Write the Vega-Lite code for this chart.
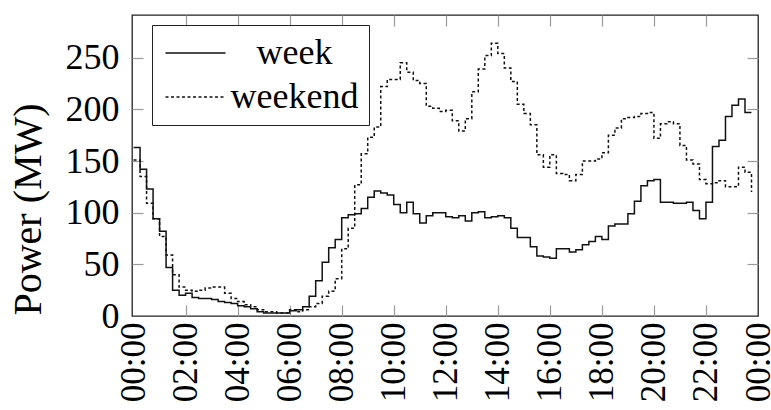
{
  "$schema": "https://vega.github.io/schema/vega-lite/v6.json",
  "autosize": {"type": "none"},
  "padding": {"left": 132, "top": 15, "right": 13, "bottom": 94},
  "width": 626,
  "height": 301,
  "background": "white",
  "config": {
    "view": {"stroke": "#222", "strokeWidth": 1.3},
    "font": "Liberation Serif",
    "axis": {"labelFont": "Liberation Serif", "titleFont": "Liberation Serif", "labelColor": "#000", "titleColor": "#000", "grid": false, "domain": false}
  },
  "data": {"values": [
    {"t":0,"p":163,"s":"week"},{"t":0.25,"p":142,"s":"week"},{"t":0.5,"p":123,"s":"week"},{"t":0.75,"p":94,"s":"week"},{"t":1,"p":82,"s":"week"},{"t":1.25,"p":47,"s":"week"},{"t":1.5,"p":25,"s":"week"},{"t":1.75,"p":20,"s":"week"},
    {"t":2,"p":22,"s":"week"},{"t":2.25,"p":18,"s":"week"},{"t":2.5,"p":17,"s":"week"},{"t":2.75,"p":17,"s":"week"},{"t":3,"p":16,"s":"week"},{"t":3.25,"p":14,"s":"week"},{"t":3.5,"p":13,"s":"week"},{"t":3.75,"p":12,"s":"week"},
    {"t":4,"p":10,"s":"week"},{"t":4.25,"p":9,"s":"week"},{"t":4.5,"p":7,"s":"week"},{"t":4.75,"p":4,"s":"week"},{"t":5,"p":3,"s":"week"},{"t":5.25,"p":3,"s":"week"},{"t":5.5,"p":3,"s":"week"},{"t":5.75,"p":3,"s":"week"},
    {"t":6,"p":5,"s":"week"},{"t":6.25,"p":6,"s":"week"},{"t":6.5,"p":9,"s":"week"},{"t":6.75,"p":19,"s":"week"},{"t":7,"p":34,"s":"week"},{"t":7.25,"p":52,"s":"week"},{"t":7.5,"p":66,"s":"week"},{"t":7.75,"p":74,"s":"week"},
    {"t":8,"p":95,"s":"week"},{"t":8.25,"p":98,"s":"week"},{"t":8.5,"p":99,"s":"week"},{"t":8.75,"p":104,"s":"week"},{"t":9,"p":115,"s":"week"},{"t":9.25,"p":121,"s":"week"},{"t":9.5,"p":119,"s":"week"},{"t":9.75,"p":117,"s":"week"},
    {"t":10,"p":108,"s":"week"},{"t":10.25,"p":100,"s":"week"},{"t":10.5,"p":110,"s":"week"},{"t":10.75,"p":99,"s":"week"},{"t":11,"p":90,"s":"week"},{"t":11.25,"p":97,"s":"week"},{"t":11.5,"p":100,"s":"week"},{"t":11.75,"p":100,"s":"week"},
    {"t":12,"p":96,"s":"week"},{"t":12.25,"p":95,"s":"week"},{"t":12.5,"p":97,"s":"week"},{"t":12.75,"p":92,"s":"week"},{"t":13,"p":100,"s":"week"},{"t":13.25,"p":101,"s":"week"},{"t":13.5,"p":95,"s":"week"},{"t":13.75,"p":96,"s":"week"},
    {"t":14,"p":97,"s":"week"},{"t":14.25,"p":95,"s":"week"},{"t":14.5,"p":85,"s":"week"},{"t":14.75,"p":76,"s":"week"},{"t":15,"p":76,"s":"week"},{"t":15.25,"p":67,"s":"week"},{"t":15.5,"p":58,"s":"week"},{"t":15.75,"p":57,"s":"week"},
    {"t":16,"p":56,"s":"week"},{"t":16.25,"p":65,"s":"week"},{"t":16.5,"p":65,"s":"week"},{"t":16.75,"p":62,"s":"week"},{"t":17,"p":64,"s":"week"},{"t":17.25,"p":69,"s":"week"},{"t":17.5,"p":72,"s":"week"},{"t":17.75,"p":77,"s":"week"},
    {"t":18,"p":74,"s":"week"},{"t":18.25,"p":87,"s":"week"},{"t":18.5,"p":89,"s":"week"},{"t":18.75,"p":89,"s":"week"},{"t":19,"p":99,"s":"week"},{"t":19.25,"p":111,"s":"week"},{"t":19.5,"p":126,"s":"week"},{"t":19.75,"p":131,"s":"week"},
    {"t":20,"p":132,"s":"week"},{"t":20.25,"p":110,"s":"week"},{"t":20.5,"p":110,"s":"week"},{"t":20.75,"p":109,"s":"week"},{"t":21,"p":109,"s":"week"},{"t":21.25,"p":110,"s":"week"},{"t":21.5,"p":102,"s":"week"},{"t":21.75,"p":94,"s":"week"},
    {"t":22,"p":110,"s":"week"},{"t":22.25,"p":164,"s":"week"},{"t":22.5,"p":170,"s":"week"},{"t":22.75,"p":193,"s":"week"},{"t":23,"p":204,"s":"week"},{"t":23.25,"p":210,"s":"week"},{"t":23.5,"p":197,"s":"week"},{"t":23.75,"p":197,"s":"week"},
    {"t":0,"p":151,"s":"weekend"},{"t":0.25,"p":135,"s":"weekend"},{"t":0.5,"p":109,"s":"weekend"},{"t":0.75,"p":94,"s":"weekend"},{"t":1,"p":77,"s":"weekend"},{"t":1.25,"p":59,"s":"weekend"},{"t":1.5,"p":40,"s":"weekend"},{"t":1.75,"p":28,"s":"weekend"},
    {"t":2,"p":25,"s":"weekend"},{"t":2.25,"p":24,"s":"weekend"},{"t":2.5,"p":25,"s":"weekend"},{"t":2.75,"p":27,"s":"weekend"},{"t":3,"p":28,"s":"weekend"},{"t":3.25,"p":28,"s":"weekend"},{"t":3.5,"p":22,"s":"weekend"},{"t":3.75,"p":17,"s":"weekend"},
    {"t":4,"p":14,"s":"weekend"},{"t":4.25,"p":11,"s":"weekend"},{"t":4.5,"p":9,"s":"weekend"},{"t":4.75,"p":6,"s":"weekend"},{"t":5,"p":4,"s":"weekend"},{"t":5.25,"p":4,"s":"weekend"},{"t":5.5,"p":3,"s":"weekend"},{"t":5.75,"p":3,"s":"weekend"},
    {"t":6,"p":6,"s":"weekend"},{"t":6.25,"p":4,"s":"weekend"},{"t":6.5,"p":6,"s":"weekend"},{"t":6.75,"p":9,"s":"weekend"},{"t":7,"p":12,"s":"weekend"},{"t":7.25,"p":19,"s":"weekend"},{"t":7.5,"p":24,"s":"weekend"},{"t":7.75,"p":36,"s":"weekend"},
    {"t":8,"p":65,"s":"weekend"},{"t":8.25,"p":85,"s":"weekend"},{"t":8.5,"p":127,"s":"weekend"},{"t":8.75,"p":157,"s":"weekend"},{"t":9,"p":173,"s":"weekend"},{"t":9.25,"p":183,"s":"weekend"},{"t":9.5,"p":222,"s":"weekend"},{"t":9.75,"p":229,"s":"weekend"},
    {"t":10,"p":229,"s":"weekend"},{"t":10.25,"p":245,"s":"weekend"},{"t":10.5,"p":236,"s":"weekend"},{"t":10.75,"p":228,"s":"weekend"},{"t":11,"p":225,"s":"weekend"},{"t":11.25,"p":203,"s":"weekend"},{"t":11.5,"p":201,"s":"weekend"},{"t":11.75,"p":198,"s":"weekend"},
    {"t":12,"p":199,"s":"weekend"},{"t":12.25,"p":189,"s":"weekend"},{"t":12.5,"p":179,"s":"weekend"},{"t":12.75,"p":191,"s":"weekend"},{"t":13,"p":217,"s":"weekend"},{"t":13.25,"p":239,"s":"weekend"},{"t":13.5,"p":252,"s":"weekend"},{"t":13.75,"p":264,"s":"weekend"},
    {"t":14,"p":254,"s":"weekend"},{"t":14.25,"p":240,"s":"weekend"},{"t":14.5,"p":227,"s":"weekend"},{"t":14.75,"p":205,"s":"weekend"},{"t":15,"p":196,"s":"weekend"},{"t":15.25,"p":185,"s":"weekend"},{"t":15.5,"p":156,"s":"weekend"},{"t":15.75,"p":144,"s":"weekend"},
    {"t":16,"p":156,"s":"weekend"},{"t":16.25,"p":138,"s":"weekend"},{"t":16.5,"p":137,"s":"weekend"},{"t":16.75,"p":131,"s":"weekend"},{"t":17,"p":137,"s":"weekend"},{"t":17.25,"p":150,"s":"weekend"},{"t":17.5,"p":150,"s":"weekend"},{"t":17.75,"p":152,"s":"weekend"},
    {"t":18,"p":158,"s":"weekend"},{"t":18.25,"p":175,"s":"weekend"},{"t":18.5,"p":182,"s":"weekend"},{"t":18.75,"p":191,"s":"weekend"},{"t":19,"p":192,"s":"weekend"},{"t":19.25,"p":193,"s":"weekend"},{"t":19.5,"p":196,"s":"weekend"},{"t":19.75,"p":197,"s":"weekend"},
    {"t":20,"p":172,"s":"weekend"},{"t":20.25,"p":186,"s":"weekend"},{"t":20.5,"p":188,"s":"weekend"},{"t":20.75,"p":186,"s":"weekend"},{"t":21,"p":165,"s":"weekend"},{"t":21.25,"p":151,"s":"weekend"},{"t":21.5,"p":147,"s":"weekend"},{"t":21.75,"p":132,"s":"weekend"},
    {"t":22,"p":128,"s":"weekend"},{"t":22.25,"p":129,"s":"weekend"},{"t":22.5,"p":131,"s":"weekend"},{"t":22.75,"p":125,"s":"weekend"},{"t":23,"p":125,"s":"weekend"},{"t":23.25,"p":144,"s":"weekend"},{"t":23.5,"p":139,"s":"weekend"},{"t":23.75,"p":120,"s":"weekend"}
  ]},
  "resolve": {"axis": {"x": "independent", "y": "independent"}},
  "layer": [
    {
      "mark": {"type": "line", "interpolate": "step-after", "color": "#111", "strokeWidth": 1.5},
      "encoding": {
        "x": {"field": "t", "type": "quantitative",
              "scale": {"domain": [-0.06, 24], "nice": false, "zero": false},
              "axis": {"values": [0,2,4,6,8,10,12,14,16,18,20,22,24], "labelExpr": "(datum.value % 24 < 10 ? '0' : '') + (datum.value % 24) + ':00'",
                       "labelAngle": -90, "labelFlush": false, "labelOverlap": false, "ticks": false, "labelPadding": 6, "labelFontSize": 35, "title": null}},
        "y": {"field": "p", "type": "quantitative",
              "scale": {"domain": [0, 291.3], "nice": false},
              "axis": {"values": [0,50,100,150,200,250], "ticks": false, "labelPadding": 13, "labelFontSize": 36, "labelFlush": false, "labelOverlap": false,
                       "title": "Power (MW)", "titleFontSize": 40, "titleFontWeight": "normal", "titleX": -104, "titleY": 194, "titleAngle": -90, "titleAlign": "center", "titleBaseline": "middle"}},
        "strokeDash": {"field": "s", "type": "nominal",
              "scale": {"domain": ["week", "weekend"], "range": [[1, 0], [3, 2.5]]},
              "legend": {"orient": "none", "legendX": 20, "legendY": 10, "title": null,
                         "symbolType": "M-3,0H3", "symbolSize": 400, "symbolStrokeWidth": 1.5, "symbolStrokeColor": "#111", "symbolOffset": 15.5,
                         "labelFont": "Liberation Serif", "labelFontSize": 36, "labelColor": "#000", "labelAlign": "center", "labelOffset": 81, "labelLimit": 400,
                         "strokeColor": "#222", "fillColor": "white", "padding": 10, "rowPadding": 8}}
      }
    },
    {
      "mark": {"type": "point", "opacity": 0},
      "encoding": {
        "x": {"field": "t", "type": "quantitative",
              "axis": {"orient": "bottom", "offset": -11, "values": [2,4,6,8,10,12,14,16,18,20,22], "labels": false, "ticks": true, "tickSize": 11, "tickColor": "#9a9a9a", "tickWidth": 1.2, "title": null}},
        "y": {"field": "p", "type": "quantitative",
              "axis": {"orient": "left", "offset": -11, "values": [50,100,150,200,250], "labels": false, "ticks": true, "tickSize": 11, "tickColor": "#9a9a9a", "tickWidth": 1.2, "title": null}}
      }
    },
    {
      "mark": {"type": "point", "opacity": 0},
      "encoding": {
        "x": {"field": "t", "type": "quantitative",
              "axis": {"orient": "top", "offset": -11, "values": [2,4,6,8,10,12,14,16,18,20,22], "labels": false, "ticks": true, "tickSize": 11, "tickColor": "#9a9a9a", "tickWidth": 1.2, "title": null}},
        "y": {"field": "p", "type": "quantitative",
              "axis": {"orient": "right", "offset": -11, "values": [50,100,150,200,250], "labels": false, "ticks": true, "tickSize": 11, "tickColor": "#9a9a9a", "tickWidth": 1.2, "title": null}}
      }
    }
  ]
}
